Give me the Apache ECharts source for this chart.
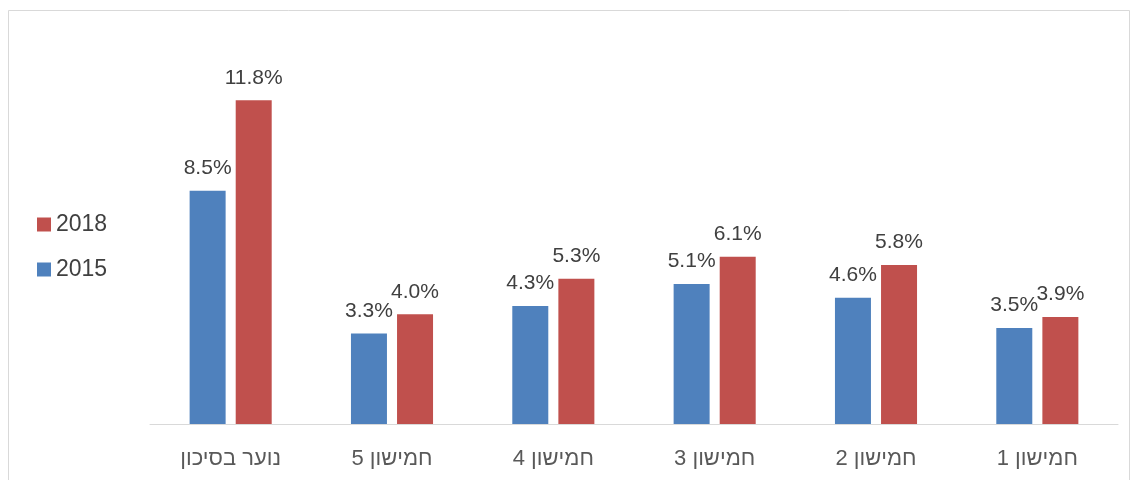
<!DOCTYPE html>
<html>
<head>
<meta charset="utf-8">
<script src="https://cdn.jsdelivr.net/npm/echarts@6/dist/echarts.min.js"></script>
<style>
  html, body { margin: 0; padding: 0; background: #fff; }
</style>
</head>
<body>
<div id="chart" dir="rtl" style="width: 1138px; height: 480px"></div>
<script>
// קטגוריות וערכים (באחוזים)
const categories = ["נוער בסיכון", "חמישון 5", "חמישון 4", "חמישון 3", "חמישון 2", "חמישון 1"];
const values2015 = [8.5, 3.3, 4.3, 5.1, 4.6, 3.5];
const values2018 = [11.8, 4.0, 5.3, 6.1, 5.8, 3.9];
const seriesNames = ["2015", "2018"];

const blue = "#4F81BD";
const red = "#C0504D";
const font = "Arial, 'Liberation Sans', sans-serif";

const chart = echarts.init(document.getElementById("chart"), null, { renderer: "canvas" });

const labelStyle = {
  show: true,
  position: "top",
  distance: 12,
  color: "#404040",
  fontSize: 21,
  fontFamily: font,
  formatter: (p) => p.value.toFixed(1) + "%",
};

const option = {
  animation: false,
  backgroundColor: "#fff",
  // מסגרת אפורה סביב התרשים
  graphic: [
    {
      type: "rect",
      shape: { x: 8.5, y: 10.5, width: 1121, height: 480 },
      style: { fill: "none", stroke: "#d9d9d9", lineWidth: 1 },
      silent: true,
    },
  ],
  grid: {
    left: 150,
    right: 20,
    top: 40,
    bottom: 56,
  },
  legend: {
    orient: "vertical",
    left: 37,
    top: 213,
    padding: 0,
    itemWidth: 14,
    itemHeight: 14,
    itemGap: 22,
    icon: "rect",
    data: ["2018", "2015"],
    textStyle: {
      color: "#404040",
      fontSize: 23,
      fontFamily: font,
    },
  },
  xAxis: {
    type: "category",
    data: categories,
    axisLine: { show: true, lineStyle: { color: "#d9d9d9", width: 1 } },
    axisTick: { show: false },
    axisLabel: {
      color: "#595959",
      fontSize: 22,
      fontFamily: font,
      margin: 24,
    },
  },
  yAxis: {
    type: "value",
    min: 0,
    max: 14,
    interval: 2,
    show: false,
    splitLine: { show: false },
  },
  series: [
    {
      name: seriesNames[0],
      type: "bar",
      data: values2015,
      barWidth: 36,
      barGap: "28%",
      itemStyle: { color: blue },
      label: labelStyle,
    },
    {
      name: seriesNames[1],
      type: "bar",
      data: values2018,
      barWidth: 36,
      barGap: "28%",
      itemStyle: { color: red },
      label: labelStyle,
    },
  ],
};

chart.setOption(option);
</script>
</body>
</html>
